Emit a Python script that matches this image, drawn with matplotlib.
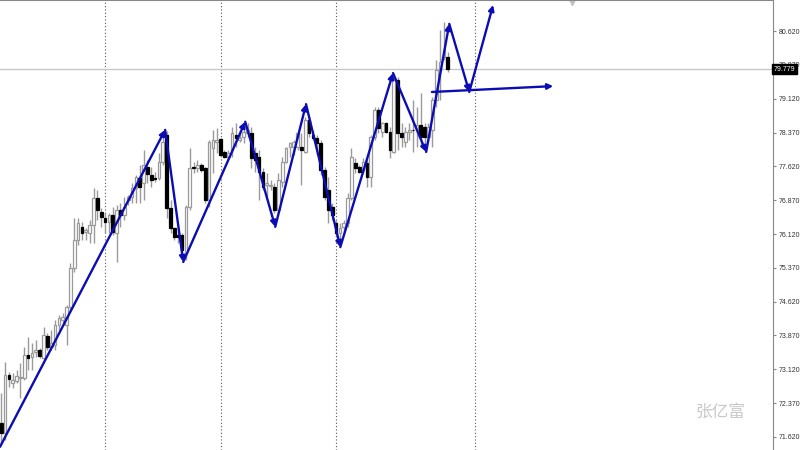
import matplotlib
matplotlib.use('Agg')
import matplotlib.pyplot as plt

# candle data (oldest -> newest)
opens = [71.93, 71.71, 73.00, 72.82, 72.86, 72.93, 72.93, 73.44, 73.39, 73.51,
         73.55, 73.37, 73.86, 73.62, 73.66, 74.11, 74.22, 74.11, 74.50, 75.37,
         75.99, 76.28, 76.17, 76.14, 76.32, 76.92, 76.61, 76.48, 76.39, 76.54,
         76.14, 76.65, 76.54, 76.88, 76.94, 77.14, 77.36, 77.25, 77.61, 77.43,
         77.36, 77.36, 77.72, 78.32, 76.70, 76.26, 76.10, 76.10, 75.70, 76.72,
         77.61, 77.58, 77.65, 77.58, 76.88, 78.03, 78.16, 78.23, 77.94, 77.83,
         77.98, 78.32, 78.21, 78.27, 78.36, 78.36, 77.92, 77.83, 77.50, 77.21,
         77.19, 77.16, 76.65, 77.27, 77.72, 78.05, 78.05, 78.05, 78.05, 77.94,
         78.65, 78.32, 78.25, 78.14, 77.54, 77.10, 76.72, 76.37, 76.14, 76.28,
         76.37, 76.92, 77.70, 77.61, 77.54, 77.70, 77.39, 78.27, 78.87, 78.38,
         78.58, 78.38, 77.94, 79.53, 78.36, 78.16, 78.38, 78.43, 78.43, 78.54,
         78.49, 78.27, 78.43, 79.09, 79.76, 80.05, 80.05]
highs = [72.60, 73.28, 73.06, 73.04, 73.11, 73.26, 73.62, 73.84, 73.71, 73.77,
         73.59, 74.06, 73.93, 73.99, 74.22, 74.33, 74.37, 74.55, 75.48, 76.48,
         76.48, 76.39, 76.26, 76.43, 77.14, 77.10, 76.70, 76.59, 76.59, 76.72,
         76.76, 76.81, 76.94, 76.99, 77.25, 77.43, 77.65, 77.98, 77.76, 77.61,
         77.50, 77.92, 78.36, 78.41, 76.88, 76.28, 76.17, 76.14, 76.76, 78.03,
         77.72, 77.76, 77.70, 77.61, 78.21, 78.43, 78.47, 78.25, 77.98, 77.98,
         78.49, 78.58, 78.43, 78.61, 78.58, 78.49, 78.05, 77.98, 77.58, 77.47,
         77.32, 77.25, 77.47, 77.83, 78.05, 78.16, 78.21, 78.38, 78.36, 78.72,
         78.72, 78.43, 78.32, 78.21, 77.61, 77.39, 76.81, 76.43, 76.37, 76.43,
         77.03, 78.03, 77.81, 77.65, 77.81, 77.83, 78.32, 78.94, 78.94, 78.61,
         78.61, 78.49, 79.60, 79.60, 78.58, 78.49, 78.58, 79.09, 78.94, 79.25,
         78.58, 78.58, 79.16, 79.98, 80.64, 80.82, 80.16]
lows = [71.44, 71.56, 72.73, 72.71, 72.82, 72.49, 72.89, 73.11, 73.11, 73.39,
        73.37, 73.33, 73.55, 73.55, 73.55, 73.99, 74.15, 73.66, 74.44, 75.28,
        75.88, 75.99, 75.99, 75.92, 75.92, 76.43, 76.28, 76.14, 76.14, 76.10,
        75.50, 76.28, 76.43, 76.76, 76.81, 76.81, 76.81, 76.88, 77.25, 77.16,
        77.27, 77.32, 77.65, 76.48, 76.14, 75.99, 75.92, 75.61, 75.55, 76.65,
        77.47, 77.50, 77.50, 76.81, 76.72, 77.47, 77.92, 77.83, 77.81, 77.76,
        77.83, 78.05, 78.16, 78.14, 78.27, 77.58, 77.50, 76.88, 77.10, 76.88,
        77.10, 76.59, 76.59, 77.16, 77.70, 77.83, 77.87, 77.98, 77.21, 77.92,
        78.27, 78.21, 77.87, 77.43, 76.88, 76.37, 76.43, 76.06, 75.99, 76.14,
        76.28, 76.88, 77.47, 77.47, 77.47, 77.16, 77.16, 78.21, 78.36, 78.27,
        78.36, 77.81, 77.92, 77.98, 78.05, 78.05, 78.21, 77.94, 78.05, 78.05,
        78.14, 78.16, 78.05, 78.94, 79.09, 79.98, 79.71]
closes = [71.71, 73.00, 72.91, 72.89, 72.97, 72.95, 73.44, 73.37, 73.48, 73.55,
          73.42, 73.88, 73.62, 73.71, 74.11, 74.26, 74.28, 74.50, 75.37, 75.99,
          76.37, 76.14, 76.21, 76.32, 76.92, 76.65, 76.50, 76.39, 76.54, 76.17,
          76.65, 76.54, 76.72, 76.94, 77.14, 77.39, 77.16, 77.65, 77.45, 77.32,
          77.34, 77.72, 78.16, 76.70, 76.26, 76.06, 76.06, 75.77, 76.72, 77.58,
          77.58, 77.65, 77.54, 76.88, 78.16, 78.21, 78.21, 77.87, 77.83, 77.92,
          78.36, 78.25, 78.25, 78.38, 78.43, 77.81, 77.76, 77.50, 77.16, 77.25,
          77.21, 76.65, 77.32, 77.72, 78.03, 78.14, 78.16, 78.36, 77.98, 78.65,
          78.36, 78.25, 78.14, 77.54, 76.94, 76.65, 76.54, 76.14, 76.26, 76.37,
          76.92, 77.83, 77.58, 77.50, 77.72, 77.39, 78.27, 78.87, 78.47, 78.58,
          78.38, 77.98, 79.53, 78.36, 78.27, 78.38, 78.43, 78.42, 78.54, 78.27,
          78.27, 78.49, 79.09, 79.76, 79.94, 80.20, 79.78]

# zigzag drawn on the chart (bar index, price)
zz_x = [-0.3, 42.6, 47.3, 63.4, 71.2, 79.2, 88.1, 101.8, 110.4, 116.4, 121.6, 127.8]
zz_y = [71.40, 78.43, 75.50, 78.61, 76.28, 79.00, 75.83, 79.69, 77.94, 80.78, 79.27, 81.20]
hl_x = [111.9, 143.4]
hl_y = [79.27, 79.40]

separators = [27, 57, 87, 123]
yticks = [71.62, 72.37, 73.12, 73.87, 74.62, 75.37, 76.12, 76.87, 77.62, 78.37, 79.12, 79.87, 80.62]
bid = 79.779

fig = plt.figure(figsize=(8, 4.5), dpi=100)
ax = fig.add_axes([0, 0, 773 / 800, 1])

for s in separators:
    ax.axvline(s, color='#555555', lw=0.8, ls=(0, (1, 2)), zorder=0)

ax.axhline(bid, color='#c8c8c8', lw=1, zorder=0)

n = len(opens)
w = 0.7
for i in range(n):
    o, h, l, c = opens[i], highs[i], lows[i], closes[i]
    ax.vlines(i, l, h, color='#9a9a9a', lw=1, zorder=1)
    if c >= o:
        ax.bar(i, max(c - o, 0.015), bottom=o, width=w, facecolor='white',
               edgecolor='#9a9a9a', lw=0.9, zorder=2)
    else:
        ax.bar(i, o - c, bottom=c, width=w, facecolor='black',
               edgecolor='black', lw=0.9, zorder=2)

blue = '#0c0cb4'
for k in range(len(zz_x) - 1):
    ax.annotate('', xy=(zz_x[k + 1], zz_y[k + 1]), xytext=(zz_x[k], zz_y[k]),
                arrowprops=dict(arrowstyle='-|>', color=blue, lw=1.7,
                                mutation_scale=8, shrinkA=0, shrinkB=0),
                zorder=5)
ax.annotate('', xy=(hl_x[1], hl_y[1]), xytext=(hl_x[0], hl_y[0]),
            arrowprops=dict(arrowstyle='-|>', color=blue, lw=1.7,
                            mutation_scale=8, shrinkA=0, shrinkB=0),
            zorder=5)

ax.set_xlim(-0.3, 200.5)
ax.set_ylim(71.33, 81.31)

ax.yaxis.tick_right()
ax.set_yticks(yticks)
ax.set_yticklabels(['%.3f' % t for t in yticks], family='Liberation Sans')
ax.tick_params(axis='y', direction='out', length=2, width=0.8, colors='#888888',
               labelcolor='#333333', labelsize=5, pad=2)
ax.set_xticks([])
for side in ['left', 'bottom']:
    ax.spines[side].set_visible(False)
ax.spines['right'].set_color('#888888')
ax.spines['top'].set_color('#888888')
ax.spines['top'].set_linewidth(1.5)

# current price box
ax.text(1.001, bid, '%.3f' % bid, transform=ax.get_yaxis_transform(),
        ha='left', va='center', fontsize=5, color='white', family='Liberation Sans',
        bbox=dict(boxstyle='square,pad=0.2', fc='black', ec='black'),
        zorder=10, clip_on=False)

# shift marker at the top
ax.plot([572 / 773], [0.995], marker='v', color='#c0c0c0', markersize=5,
        transform=ax.transAxes, clip_on=False)

fig.text(720 / 800, 1 - 412 / 450, '张亿富', family=['Noto Sans CJK SC', 'DejaVu Sans'],
         fontsize=12, color='#c8c8c8', ha='center', va='center')

fig.savefig('out.png', dpi=100)
